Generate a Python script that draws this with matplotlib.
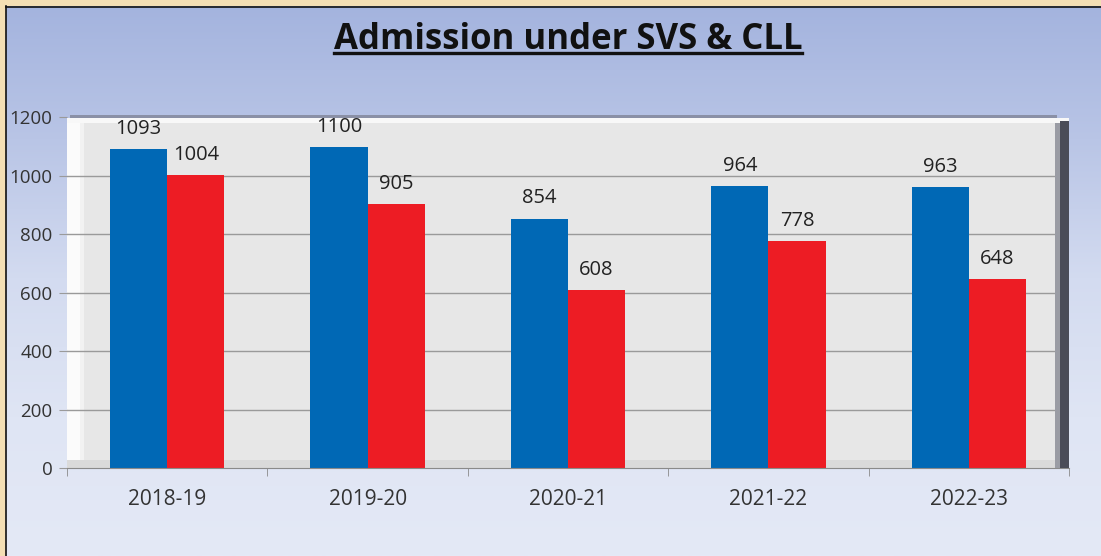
import numpy as np
import matplotlib
matplotlib.use("Agg")
import matplotlib.pyplot as plt
from matplotlib.patches import Rectangle
from matplotlib.colors import LinearSegmentedColormap

# ---- data ----
categories = ["2018-19", "2019-20", "2020-21", "2021-22", "2022-23"]
svs = [1093, 1100, 854, 964, 963]
cll = [1004, 905, 608, 778, 648]
yticks = [0, 200, 400, 600, 800, 1000, 1200]
title = "Admission under SVS & CLL"

BLUE = "#0068b5"
RED = "#ed1c24"
FONT = ["Open Sans", "DejaVu Sans"]
plt.rcParams["font.family"] = FONT

W, H = 1101, 556
fig = plt.figure(figsize=(W / 100, H / 100), dpi=100)

# background gradient
bg = fig.add_axes([0, 0, 1, 1], zorder=-5)
grad = np.linspace(0, 1, 256).reshape(-1, 1)
cmap_bg = LinearSegmentedColormap.from_list(
    "bg", ["#a3b3de", "#b9c5e6", "#d3dbf0", "#dfe5f4", "#e4e9f6"])
bg.imshow(grad, aspect="auto", cmap=cmap_bg, extent=[0, 1, 0, 1], origin="upper")
bg.set_xlim(0, 1); bg.set_ylim(0, 1)
bg.axis("off")

# main axes
L, R = 67 / W, 1069 / W
B, T = 1 - 468 / H, 1 - 117.5 / H
ax = fig.add_axes([L, B, R - L, T - B])
ax.set_facecolor("#e7e7e7")
x = np.arange(len(categories))
w = 0.285
ax.set_xlim(-0.5, len(categories) - 0.5)
ax.set_ylim(0, 1200)

# 3D-ish wall decorations
trans = ax.transAxes
ax.add_patch(Rectangle((0, 0), 0.013, 1, transform=trans, color="#fbfbfb", zorder=0.5, lw=0))
ax.add_patch(Rectangle((0.013, 0), 0.004, 1, transform=trans, color="#f2f2f2", zorder=0.5, lw=0))
ax.add_patch(Rectangle((0, 0), 1, 0.022, transform=trans, color="#dadada", zorder=0.6, lw=0))
ax.add_patch(Rectangle((0, 0.985), 1, 0.015, transform=trans, color="#f8f8f8", zorder=0.6, lw=0))
# right dark edge
ax.add_patch(Rectangle((0.991, 0), 0.009, 0.99, transform=trans, color="#4a4c58", zorder=3, lw=0, clip_on=False))
ax.add_patch(Rectangle((0.986, 0), 0.005, 0.985, transform=trans, color="#9a9ca4", zorder=3, lw=0, clip_on=False))
# top shadow
ax.add_patch(Rectangle((0.003, 1.0), 0.985, 0.008, transform=trans, color="#8a90a6", zorder=3, lw=0, clip_on=False))

ax.set_yticks(yticks)
ax.yaxis.grid(True, color="#9a9a9a", lw=1.0, zorder=1)
ax.set_axisbelow(True)

b1 = ax.bar(x - w / 2, svs, w, color=BLUE, zorder=2)
b2 = ax.bar(x + w / 2, cll, w, color=RED, zorder=2)
for bars, vals in ((b1, svs), (b2, cll)):
    for rect, v in zip(bars, vals):
        ax.annotate(f"{v}", (rect.get_x() + rect.get_width() / 2, v),
                    xytext=(0, 14.5), textcoords="offset points",
                    ha="center", va="center", fontsize=14.5, color="#222222",
                    family=FONT)

for s in ("top", "right"):
    ax.spines[s].set_visible(False)
ax.spines["left"].set_visible(False)
ax.spines["bottom"].set_color("#8a8a8a")

ax.set_xticks(x)
ax.set_xticklabels(categories, fontsize=15, color="#333333")
ax.set_xticks(np.arange(len(categories) + 1) - 0.5, minor=True)
ax.tick_params(axis="x", which="major", length=0, pad=15)
ax.tick_params(axis="x", which="minor", length=6, color="#8a8a8a")
ax.tick_params(axis="y", length=5.5, color="#9a9a9a", pad=5, labelsize=13.5,
               labelcolor="#333333")
for lbl in ax.get_yticklabels():
    lbl.set_family(FONT)

# title with underline
t = fig.text(568 / W, 1 - 40 / H, title, ha="center", va="center",
             fontsize=25, fontweight="bold", color="#111111", family=FONT)
fig.canvas.draw()
bb = t.get_window_extent()
uy = bb.y0 + 5
fig.add_artist(plt.Line2D([bb.x0 / W, bb.x1 / W], [uy / H, uy / H], color="#111111", lw=2.4))

# beige frame (left and top)
beige = "#f4dfb4"
fig.add_artist(Rectangle((0, 0), 6 / W, 1, transform=fig.transFigure, color=beige, zorder=20, lw=0))
fig.add_artist(Rectangle((0, 1 - 6 / H), 1, 6 / H, transform=fig.transFigure, color=beige, zorder=20, lw=0))
fig.add_artist(plt.Line2D([6.5 / W, 6.5 / W], [0, 1 - 6 / H], color="#111111", lw=1.2, zorder=21))
fig.add_artist(plt.Line2D([6.5 / W, 1], [1 - 6.5 / H, 1 - 6.5 / H], color="#111111", lw=1.2, zorder=21))

fig.savefig("out.png", dpi=100)
